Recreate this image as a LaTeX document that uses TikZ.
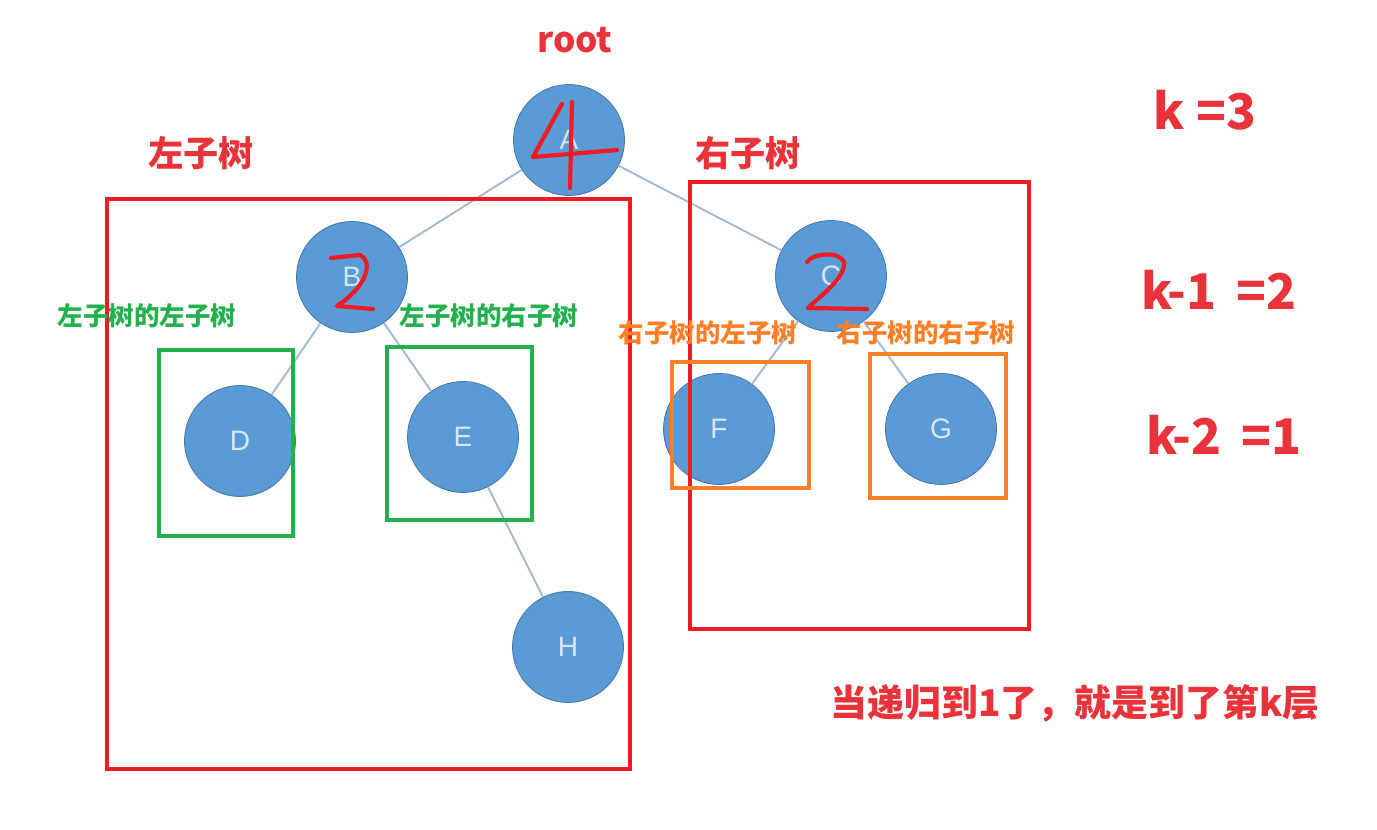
\documentclass[tikz,border=0pt]{standalone}
\usepackage{fontspec}
\setsansfont{Liberation Sans}
\newfontfamily\cjk{Noto Sans CJK SC}
\usepackage{xcolor}
\definecolor{nodeblue}{RGB}{91,155,213}
\definecolor{nodeedge}{RGB}{70,120,170}
\definecolor{nodetext}{RGB}{215,230,245}
\definecolor{edgegray}{RGB}{165,185,208}
\definecolor{boxred}{RGB}{237,28,36}
\definecolor{textred}{RGB}{232,51,58}
\definecolor{boxgreen}{RGB}{34,177,76}
\definecolor{boxorange}{RGB}{255,127,39}

\begin{document}
\begin{tikzpicture}[
    x=0.02cm, y=-0.02cm,
    treenode/.style={circle, fill=nodeblue, draw=nodeedge, line width=0.5pt,
        minimum size=2.22cm, inner sep=0pt, text=nodetext,
        font=\sffamily\fontsize{16}{16}\selectfont},
    edge/.style={draw=edgegray, line width=1.1pt},
    bigbox/.style={draw=boxred, line width=2.4pt},
    greenbox/.style={draw=boxgreen, line width=2.4pt},
    orangebox/.style={draw=boxorange, line width=2.4pt},
    digit/.style={draw=boxred, line width=2.4pt, line cap=round, line join=round},
    redlabel/.style={text=textred, font=\cjk\bfseries\fontsize{20}{20}\selectfont},
    greenlabel/.style={text=boxgreen, font=\cjk\bfseries\fontsize{14.5}{14.5}\selectfont},
    orangelabel/.style={text=boxorange, font=\cjk\bfseries\fontsize{14.5}{14.5}\selectfont},
    klabel/.style={text=textred, font=\cjk\bfseries\fontsize{28}{28}\selectfont}
]
\useasboundingbox (0,0) rectangle (1377,830);

% Tree nodes
\node[treenode] (A) at (569,140) {A};
\node[treenode] (B) at (352,277) {B};
\node[treenode] (C) at (831,276) {C};
\node[treenode] (D) at (240,441) {D};
\node[treenode] (E) at (463,437) {E};
\node[treenode] (F) at (719,429) {F};
\node[treenode] (G) at (941,429) {G};
\node[treenode] (H) at (568,647) {H};

% Edges
\draw[edge] (A) -- (B);
\draw[edge] (A) -- (C);
\draw[edge] (B) -- (D);
\draw[edge] (B) -- (E);
\draw[edge] (C) -- (F);
\draw[edge] (C) -- (G);
\draw[edge] (E) -- (H);

% Handwritten counts
\draw[digit] (562,104) -- (533,157) -- (617,150);
\draw[digit] (572,102) -- (570,188);
\draw[digit] (331,258) -- (360,255) .. controls (372,260) and (370,284) .. (337,306) -- (373,309);
\draw[digit] (807,262) .. controls (812,254) and (838,250) .. (844,262)
    .. controls (846,278) and (820,296) .. (808,308) -- (867,309);

% Subtree boxes
\draw[bigbox] (107,199) rectangle (630,769);
\draw[bigbox] (690,182) rectangle (1029,629);
\draw[greenbox] (159,350) rectangle (293,536);
\draw[greenbox] (387,347) rectangle (532,520);
\draw[orangebox] (672,362) rectangle (809,488);
\draw[orangebox] (870,354) rectangle (1006,498);

% Labels
\node[redlabel] (rootlabel) at (575,40) {root};
\node[redlabel] (leftlabel) at (201,153) {左子树};
\node[redlabel] (rightlabel) at (748,153) {右子树};
\node[greenlabel] (ll) at (147,316) {左子树的左子树};
\node[greenlabel] (lr) at (489,316) {左子树的右子树};
\node[orangelabel] (rl) at (708,333) {右子树的左子树};
\node[orangelabel] (rr) at (926,333) {右子树的右子树};

% Levels
\node[klabel] (k0) at (1205,110) {k =3};
\node[klabel] (k1) at (1219,290) {k-1 \,=2};
\node[klabel] (k2) at (1224,435) {k-2 \,=1};
\node[redlabel, font=\cjk\bfseries\fontsize{21}{21}\selectfont] (note) at (1075,703) {当递归到1了，就是到了第k层};

\end{tikzpicture}
\end{document}
